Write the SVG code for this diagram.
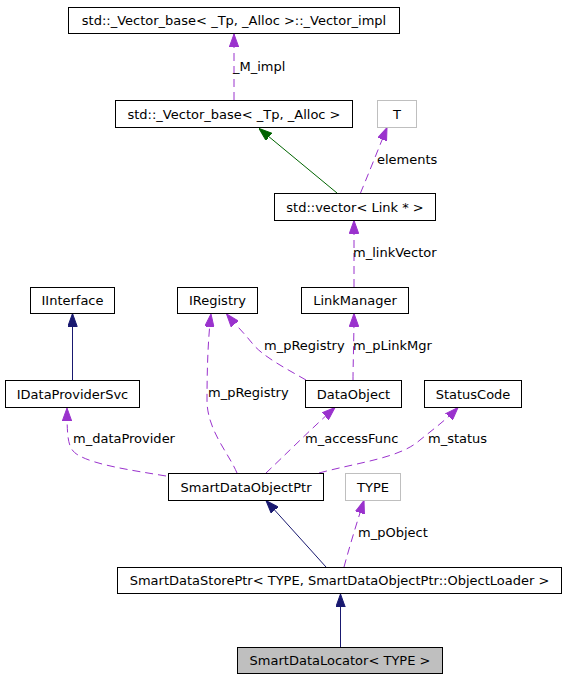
<svg xmlns="http://www.w3.org/2000/svg" width="565" height="680" viewBox="0 0 565 680">
<style>
.box{fill:#fff;stroke:#000;stroke-width:1}
.gbox{fill:#fff;stroke:#bfbfbf;stroke-width:1}
.sel{fill:#bfbfbf;stroke:#000;stroke-width:1}
text{font-family:"DejaVu Sans","Liberation Sans",sans-serif;font-size:13px;fill:#000}
.c{text-anchor:middle}
.p{fill:none;stroke:#9a32cd;stroke-width:1;stroke-dasharray:8,5}
.b{fill:none;stroke:#191970;stroke-width:1}
.g{fill:none;stroke:#006400;stroke-width:1}
</style>
<defs>
<marker id="ap" markerUnits="userSpaceOnUse" viewBox="0 0 13 10" refX="13" refY="5" markerWidth="13" markerHeight="10" orient="auto"><path d="M0,0.3L13,5L0,9.7z" fill="#9a32cd" stroke="#9a32cd"/></marker>
<marker id="ab" markerUnits="userSpaceOnUse" viewBox="0 0 13 10" refX="13" refY="5" markerWidth="13" markerHeight="10" orient="auto"><path d="M0,0.3L13,5L0,9.7z" fill="#191970" stroke="#191970"/></marker>
<marker id="ag" markerUnits="userSpaceOnUse" viewBox="0 0 13 10" refX="13" refY="5" markerWidth="13" markerHeight="10" orient="auto"><path d="M0,0.3L13,5L0,9.7z" fill="#006400" stroke="#006400"/></marker>
</defs>
<g id="connectors">
<path class="p" d="M234,100L234,34" marker-end="url(#ap)"/>
<text x="233" y="71">_M_impl</text>
<path class="g" d="M337,193L259,128.5" marker-end="url(#ag)"/>
<path class="p" d="M360.5,193C368,175 378,150 387,127.5" marker-end="url(#ap)"/>
<text x="377" y="164">elements</text>
<path class="p" d="M354,287L354,220.5" marker-end="url(#ap)"/>
<text x="353" y="257">m_linkVector</text>
<path class="b" d="M72.5,380L72.5,313.5" marker-end="url(#ab)"/>
<path class="p" d="M306,380C285,368 262,356 252,343C244,333 234,323 226.5,314" marker-end="url(#ap)"/>
<text x="264" y="350">m_pRegistry</text>
<path class="p" d="M353,380C353,365 354,340 354,313.5" marker-end="url(#ap)"/>
<text x="353" y="350">m_pLinkMgr</text>
<path class="p" d="M237,473C228,452 207,430 207,400C207,370 208,338 211,314" marker-end="url(#ap)"/>
<text x="208" y="397">m_pRegistry</text>
<path class="p" d="M166,476C130,470 95,465 78,455C68,449 67,440 67,408" marker-end="url(#ap)"/>
<text x="73" y="443">m_dataProvider</text>
<path class="p" d="M266,473C285,455 310,430 335,407.5" marker-end="url(#ap)"/>
<text x="305" y="443">m_accessFunc</text>
<path class="p" d="M319,473C360,462 400,458 420,440C435,428 448,418 458,407.5" marker-end="url(#ap)"/>
<text x="428" y="443">m_status</text>
<path class="b" d="M326,567L308,547L266,500.5" marker-end="url(#ab)"/>
<path class="p" d="M344,567C350,545 357,522 364,500.5" marker-end="url(#ap)"/>
<text x="358" y="537">m_pObject</text>
<path class="b" d="M340.5,647L340.5,594" marker-end="url(#ab)"/>
</g>
<g id="n_impl"><rect class="box" x="68.5" y="7.5" width="331" height="26"/><text class="c" x="234" y="25">std::_Vector_base&lt; _Tp, _Alloc &gt;::_Vector_impl</text></g>
<g id="n_base"><rect class="box" x="115.5" y="100.5" width="237" height="27"/><text class="c" x="234" y="118.5">std::_Vector_base&lt; _Tp, _Alloc &gt;</text></g>
<g id="n_T"><rect class="gbox" x="377.5" y="100.5" width="39" height="27"/><text class="c" x="397" y="118.5">T</text></g>
<g id="n_vector"><rect class="box" x="274.5" y="193.5" width="161" height="27"/><text class="c" x="355" y="211.5">std::vector&lt; Link * &gt;</text></g>
<g id="n_IInterface"><rect class="box" x="30.5" y="287.5" width="84" height="26"/><text class="c" x="72.5" y="305">IInterface</text></g>
<g id="n_IRegistry"><rect class="box" x="177.5" y="287.5" width="80" height="26"/><text class="c" x="217.5" y="305">IRegistry</text></g>
<g id="n_LinkManager"><rect class="box" x="301.5" y="287.5" width="107" height="26"/><text class="c" x="355" y="305">LinkManager</text></g>
<g id="n_IDataProviderSvc"><rect class="box" x="5.5" y="380.5" width="134" height="27"/><text class="c" x="72.5" y="398.5">IDataProviderSvc</text></g>
<g id="n_DataObject"><rect class="box" x="305.5" y="380.5" width="96" height="27"/><text class="c" x="353.5" y="398.5">DataObject</text></g>
<g id="n_StatusCode"><rect class="box" x="424.5" y="380.5" width="97" height="27"/><text class="c" x="473" y="398.5">StatusCode</text></g>
<g id="n_SmartDataObjectPtr"><rect class="box" x="168.5" y="473.5" width="155" height="27"/><text class="c" x="246" y="491.5">SmartDataObjectPtr</text></g>
<g id="n_TYPE"><rect class="gbox" x="345.5" y="473.5" width="55" height="27"/><text class="c" x="373" y="491.5">TYPE</text></g>
<g id="n_SmartDataStorePtr"><rect class="box" x="117.5" y="567.5" width="444" height="26"/><text class="c" x="339.5" y="585">SmartDataStorePtr&lt; TYPE, SmartDataObjectPtr::ObjectLoader &gt;</text></g>
<g id="n_SmartDataLocator"><rect class="sel" x="237.5" y="647.5" width="205" height="26"/><text class="c" x="340" y="665">SmartDataLocator&lt; TYPE &gt;</text></g>
</svg>
